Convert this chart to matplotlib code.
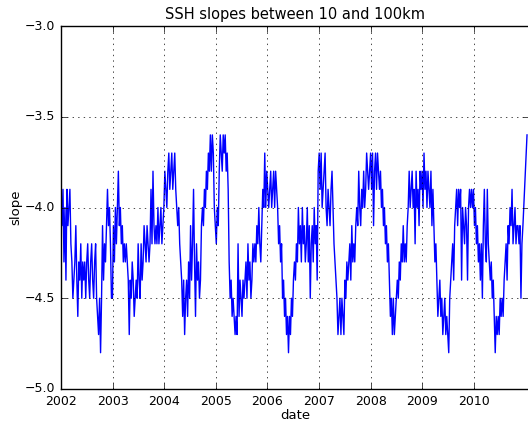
import matplotlib
matplotlib.use("Agg")
import matplotlib.pyplot as plt
import numpy as np
import pandas as pd

# weekly slope values, in tenths (39 -> -3.9), one row of 52 weeks per year
y2002 = [39, 41, 39, 43, 40, 44, 39, 41, 40, 39, 42, 43, 45, 44, 43, 41, 44, 46, 43, 44, 42, 45, 43, 44, 43, 45,
         43, 42, 44, 45, 43, 42, 44, 45, 43, 42, 45, 46, 47, 45, 48, 45, 41, 44, 42, 43, 41, 39, 41, 40, 42, 45]
y2003 = [45, 41, 43, 40, 42, 40, 38, 41, 40, 42, 41, 43, 42, 43, 42, 43, 44, 47, 44, 45, 43, 44, 46, 45, 44, 45,
         42, 44, 45, 42, 44, 43, 41, 42, 43, 41, 42, 43, 42, 39, 42, 38, 41, 42, 41, 42, 40, 42, 41, 40, 42, 41]
y2004 = [40, 38, 39, 40, 38, 37, 39, 38, 37, 39, 38, 37, 39, 40, 41, 40, 42, 43, 44, 46, 44, 47, 45, 44, 46, 43,
         45, 41, 44, 42, 39, 43, 46, 42, 44, 43, 45, 44, 41, 40, 41, 39, 40, 38, 39, 37, 38, 36, 38, 36, 37, 40]
y2005 = [41, 42, 40, 41, 38, 36, 37, 38, 36, 37, 36, 38, 37, 39, 43, 45, 44, 46, 45, 46, 47, 46, 47, 42, 46, 44,
         45, 46, 44, 45, 44, 43, 45, 42, 44, 43, 45, 44, 42, 43, 42, 43, 41, 42, 40, 42, 43, 41, 39, 40, 37, 40]
y2006 = [38, 39, 40, 39, 38, 40, 39, 38, 40, 38, 39, 40, 42, 41, 43, 42, 45, 44, 46, 45, 47, 46, 48, 46, 47, 45,
         46, 44, 43, 44, 42, 43, 40, 42, 41, 43, 40, 42, 41, 43, 42, 40, 43, 41, 45, 42, 41, 43, 40, 42, 41, 44]
y2007 = [38, 37, 39, 37, 40, 39, 38, 37, 40, 41, 39, 40, 41, 39, 38, 40, 42, 43, 44, 45, 47, 46, 45, 47, 45, 46,
         47, 44, 45, 43, 44, 43, 42, 44, 41, 43, 42, 43, 41, 40, 41, 38, 40, 41, 39, 40, 38, 40, 39, 37, 38, 39]
y2008 = [38, 37, 39, 37, 41, 38, 37, 39, 37, 38, 39, 38, 40, 39, 41, 40, 42, 41, 43, 42, 44, 46, 45, 47, 45, 47,
         46, 45, 44, 45, 43, 44, 42, 43, 41, 43, 42, 43, 41, 40, 38, 40, 39, 38, 40, 39, 42, 38, 40, 39, 41, 38]
y2009 = [39, 38, 40, 37, 39, 38, 40, 38, 39, 40, 38, 41, 39, 41, 43, 42, 44, 46, 45, 44, 46, 45, 47, 46, 45, 47,
         46, 47, 48, 45, 44, 43, 42, 44, 41, 40, 39, 41, 39, 40, 39, 44, 40, 41, 42, 40, 41, 44, 40, 39, 40, 39]
y2010 = [40, 39, 41, 40, 42, 41, 43, 42, 44, 42, 45, 41, 39, 42, 43, 39, 42, 43, 44, 43, 45, 44, 46, 48, 46, 47,
         46, 47, 45, 46, 45, 46, 44, 43, 42, 44, 41, 42, 40, 41, 39, 42, 41, 40, 42, 41, 41, 42, 41, 45, 42, 41]
last_date = "2011-01-12"
last_value = -3.6
years = list(range(2002, 2011))

weekly = y2002 + y2003 + y2004 + y2005 + y2006 + y2007 + y2008 + y2009 + y2010
dates = list(pd.date_range("2002-01-01", periods=len(weekly), freq="7D")) + [pd.Timestamp(last_date)]
slopes = [-v / 10.0 for v in weekly] + [last_value]

plt.style.use("classic")
plt.rcParams["font.family"] = "DejaVu Sans"

fig = plt.figure(figsize=(5.28, 4.21), dpi=100, facecolor="white")
ax = fig.add_axes([61 / 528, 1 - 389 / 421, 468 / 528, 363 / 421])
ax.plot(dates, slopes, color="b", linewidth=1)

ax.set_xlim(pd.Timestamp("2002-01-01"), pd.Timestamp("2011-01-26"))
ax.set_ylim(-5.0, -3.0)
ax.set_yticks(np.arange(-5.0, -2.99, 0.5))
ax.set_xticks([pd.Timestamp(f"{y}-01-01") for y in years])
ax.set_xticklabels([str(y) for y in years])
ax.tick_params(labelsize=9)
ax.grid(True, linestyle=":", color="k", linewidth=0.5)

ax.set_title("SSH slopes between 10 and 100km", fontsize=10.5)
ax.set_xlabel("date", fontsize=9.5, labelpad=1)
ax.set_ylabel("slope", fontsize=9.5, labelpad=2)

fig.savefig("out.png", dpi=100, facecolor="white")
